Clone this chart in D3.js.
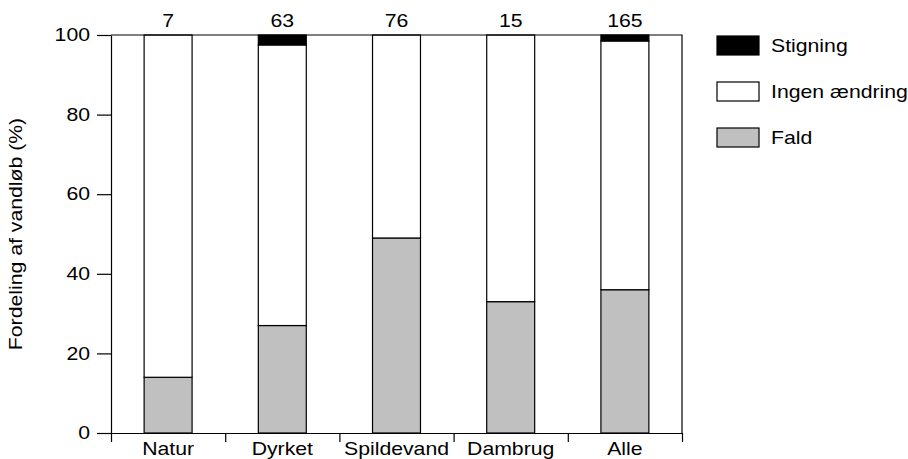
<!DOCTYPE html>
<html>
<head>
<meta charset="utf-8">
<script src="https://cdn.jsdelivr.net/npm/d3@7"></script>
<style>
  body { margin: 0; background: #fff; }
  svg text { font-family: "Liberation Sans", Arial, sans-serif; fill: #000; }
</style>
</head>
<body>
<script>
// data
var categories = ['Natur', 'Dyrket', 'Spildevand', 'Dambrug', 'Alle'];
var counts = [7, 63, 76, 15, 165];
var fald = [14, 27, 49, 33, 36];
var ingen = [86, 70.5, 51, 67, 62.5];
var stigning = [0, 2.5, 0, 0, 1.5];
var yTicks = [0, 20, 40, 60, 80, 100];

var seriesNames = ['Stigning', 'Ingen ændring', 'Fald'];
var seriesFill = {'Stigning': '#000', 'Ingen ændring': '#fff', 'Fald': '#c0c0c0'};

var margin = {top: 35, right: 226, bottom: 26, left: 111},
    W = 908, H = 459,
    w = W - margin.left - margin.right,
    h = H - margin.top - margin.bottom;

// the reference font is drawn a bit wider than Liberation Sans
var sx = 1.18;
function stretch(sel) {
  sel.each(function () {
    var t = d3.select(this);
    var x0 = +t.attr('x') || 0;
    var tr = t.attr('transform') || '';
    t.attr('x', x0 / sx).attr('transform', tr + ' scale(' + sx + ',1)');
  });
}

var table = categories.map(function (c, i) {
  return {cat: c, n: counts[i], 'Fald': fald[i], 'Ingen ændring': ingen[i], 'Stigning': stigning[i]};
});

var stack = d3.stack().keys(['Fald', 'Ingen ændring', 'Stigning'])(table);

var x = d3.scaleBand().domain(categories).range([0, w]).paddingInner(0).paddingOuter(0);
var xEdge = d3.scaleLinear().domain([0, categories.length]).range([0, w]);
var y = d3.scaleLinear().domain([0, 100]).range([h, 0]);
var barW = x.bandwidth() * 0.42;

var svg = d3.select('body').append('svg')
    .attr('width', W)
    .attr('height', H);

var g = svg.append('g')
    .attr('transform', 'translate(' + margin.left + ',' + margin.top + ')');

// bars
g.selectAll('g.layer')
  .data(stack)
  .enter()
  .append('g')
  .attr('class', 'layer')
  .attr('fill', function (d) { return seriesFill[d.key]; })
  .selectAll('rect')
  .data(function (d) { return d.filter(function (p) { return p[1] - p[0] > 0; }); })
  .enter()
  .append('rect')
  .attr('x', function (d) { return x(d.data.cat) + (x.bandwidth() - barW) / 2; })
  .attr('y', function (d) { return y(d[1]); })
  .attr('width', barW)
  .attr('height', function (d) { return y(d[0]) - y(d[1]); })
  .attr('stroke', '#000')
  .attr('stroke-width', 1.2);

// frame (top and right)
g.append('path')
  .attr('d', 'M0,0H' + w + 'V' + h)
  .attr('fill', 'none')
  .attr('stroke', '#000')
  .attr('stroke-width', 1.2);

// y axis
var yAxis = d3.axisLeft(y).tickValues(yTicks).tickSize(14).tickPadding(7).tickSizeOuter(0);
var ya = g.append('g').call(yAxis);
ya.selectAll('text').style('font-size', '18px').call(stretch);
ya.selectAll('line, path').attr('stroke', '#000').attr('stroke-width', 1.2);

// x axis: boundary ticks
var xa = g.append('g')
  .attr('transform', 'translate(0,' + h + ')')
  .call(d3.axisBottom(xEdge).tickValues(d3.range(categories.length + 1)).tickSize(9).tickFormat('').tickSizeOuter(0));
xa.selectAll('line, path').attr('stroke', '#000').attr('stroke-width', 1.2);

// category labels
g.append('g')
  .attr('transform', 'translate(0,' + h + ')')
  .call(d3.axisBottom(x).tickSize(0).tickPadding(9))
  .call(function (s) { s.select('.domain').remove(); })
  .selectAll('text')
  .style('font-size', '18px')
  .call(stretch);

// counts above bars
g.selectAll('.cnt')
  .data(table)
  .enter()
  .append('text')
  .attr('class', 'cnt')
  .attr('x', function (d) { return x(d.cat) + x.bandwidth() / 2; })
  .attr('y', -8)
  .attr('text-anchor', 'middle')
  .style('font-size', '18px')
  .text(function (d) { return d.n; })
  .call(stretch);

// y label
svg.append('text')
  .attr('transform', 'translate(22,' + (margin.top + h / 2) + ') rotate(-90)')
  .attr('text-anchor', 'middle')
  .style('font-size', '18px')
  .text('Fordeling af vandløb (%)')
  .call(stretch);

// legend
var lg = svg.append('g').attr('transform', 'translate(717,36)');
var item = lg.selectAll('g')
  .data(seriesNames)
  .enter()
  .append('g')
  .attr('transform', function (d, i) { return 'translate(0,' + (i * 46) + ')'; });
item.append('rect')
  .attr('width', 42)
  .attr('height', 19)
  .attr('fill', function (d) { return seriesFill[d]; })
  .attr('stroke', '#000')
  .attr('stroke-width', 1.2);
item.append('text')
  .attr('x', 54)
  .attr('y', 10)
  .attr('dy', '0.35em')
  .style('font-size', '18px')
  .text(function (d) { return d; })
  .call(stretch);
</script>
</body>
</html>
